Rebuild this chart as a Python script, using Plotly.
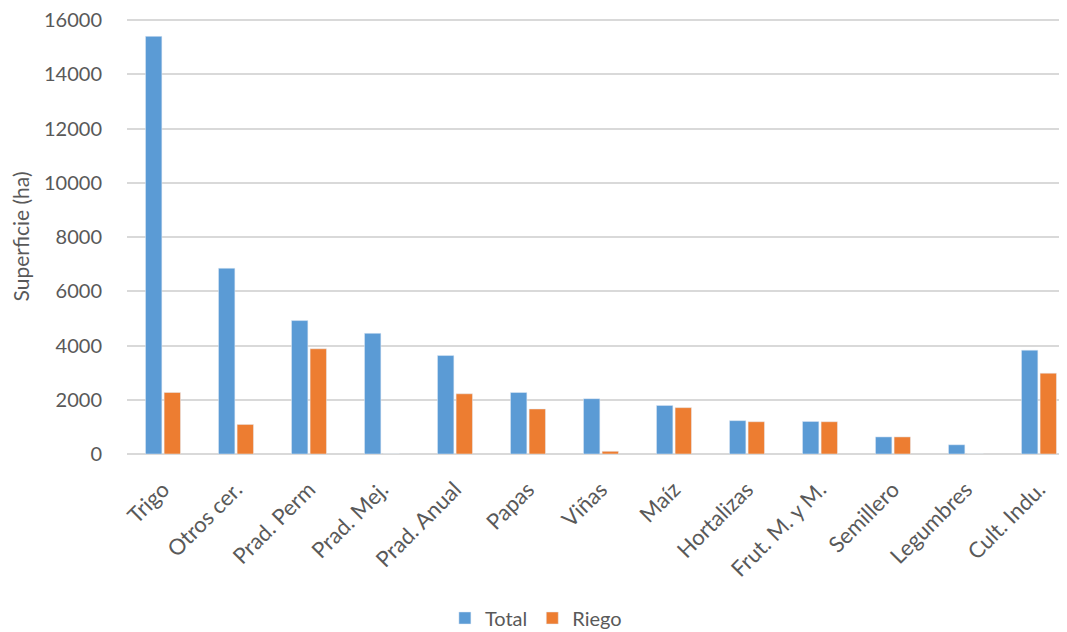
import plotly.graph_objects as go

categories = ["Trigo", "Otros cer.", "Prad. Perm", "Prad. Mej.", "Prad. Anual", "Papas",
              "Viñas", "Maíz", "Hortalizas", "Frut. M. y M.", "Semillero", "Legumbres", "Cult. Indu."]
total = [15400, 6850, 4920, 4450, 3630, 2270, 2040, 1790, 1230, 1200, 630, 340, 3830]
riego = [2270, 1090, 3880, 0, 2220, 1660, 100, 1710, 1190, 1190, 630, 0, 2980]

font_family = "Lato, 'Open Sans', sans-serif"
gray = "#595959"

fig = go.Figure()
fig.add_trace(go.Bar(x=categories, y=total, name="Total", marker_color="#5B9BD5"))
fig.add_trace(go.Bar(x=categories, y=riego, name="Riego", marker_color="#ED7D31"))

# page body has an 8px default margin; offset the figure layout to compensate
fig.update_layout(
    width=1059, height=632,
    margin=dict(l=119, r=0, t=11, b=186),
    paper_bgcolor="white", plot_bgcolor="white",
    barmode="group", bargap=0.49, bargroupgap=0.12,
    font=dict(family=font_family, color=gray, size=20),
    legend=dict(orientation="h", x=0.435, xanchor="center", y=-0.377, yanchor="middle",
                font=dict(size=20, color=gray), itemwidth=30, traceorder="normal"),
    showlegend=True,
)
fig.update_xaxes(
    range=[-0.493, 12.384], tickangle=-45, showgrid=False, showline=False,
    tickfont=dict(size=22, color=gray), ticks="outside", ticklen=13, tickcolor="rgba(0,0,0,0)",
    automargin=False,
)
fig.update_yaxes(
    range=[0, 16040], tickvals=[0, 2000, 4000, 6000, 8000, 10000, 12000, 14000, 16000],
    tickformat="d", showgrid=True, gridcolor="#D9D9D9", gridwidth=2,
    zeroline=True, zerolinecolor="#D9D9D9", zerolinewidth=2,
    tickfont=dict(size=20, color=gray), ticklabelstandoff=24, ticklabeloverflow="allow",
    title=dict(text="Superficie (ha)", font=dict(size=21, color=gray), standoff=8),
    automargin=False,
)

fig.write_html("out.html")
